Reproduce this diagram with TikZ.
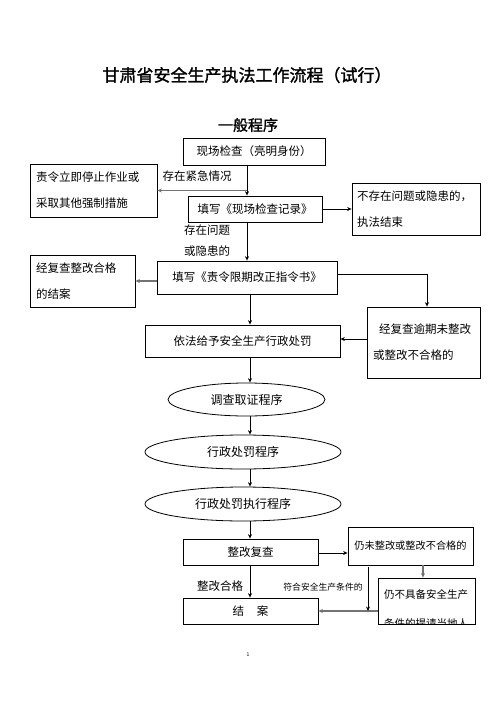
\documentclass[tikz,border=0pt]{standalone}
\usepackage{fontspec}
\setmainfont{Noto Sans CJK SC}
\newfontfamily\titlefont[FakeBold=1.5]{Noto Sans CJK SC}
\usetikzlibrary{shapes.geometric}
\usetikzlibrary{arrows.meta}
\usetikzlibrary{calc}

\begin{document}
\begin{tikzpicture}[x=1pt, y=-1pt]
        % ================= 样式定义 =================
        \tikzset{
            % 方框
            box/.style={draw=black, line width=0.8pt, inner sep=0pt, font=\fontsize{11.5}{26}\selectfont},
            % 多行方框 (左对齐)
            tbox/.style={box, text width=#1, align=left},
            % 椭圆
            oval/.style={ellipse, draw=black, line width=0.8pt, inner sep=0pt, font=\fontsize{12}{14}\selectfont},
            % 连线上的文字
            tag/.style={inner sep=0pt, font=\fontsize{11.5}{21}\selectfont},
            % 连线
            flow/.style={line width=0.7pt, -{Stealth[length=4.5pt, width=4pt]}},
            side/.style={flow, draw=black!55, line width=1.6pt}
        }

        \useasboundingbox (0,0) rectangle (496,702);

        % ================= 标题 =================
        \node[font=\titlefont\fontsize{17}{20}\selectfont] (title) at (247,75) {甘肃省安全生产执法工作流程（试行）};
        \node[font=\titlefont\fontsize{15}{18}\selectfont] (sub) at (248,125) {一般程序};

        % ================= 上半部分 =================
        \node[box, minimum width=142, minimum height=27] (insp) at (254,151.5) {现场检查（亮明身份）};
        \node[tbox=115pt, minimum width=127, minimum height=53] (stop) at (93.5,190.5) {责令立即停止作业或\\采取其他强制措施};
        \node[box, minimum width=134, minimum height=26] (rec) at (255,209) {填写《现场检查记录》};
        \node[tbox=118pt, minimum width=128, minimum height=52] (noprob) at (416,209) {不存在问题或隐患的，\\执法结束};
        \node[box, minimum width=180, minimum height=33] (order) at (247,277.5) {填写《责令限期改正指令书》};
        \node[tbox=93pt, minimum width=105, minimum height=52] (passed) at (82.5,281) {经复查整改合格\\的结案};
        \node[tbox=101pt, minimum width=113, minimum height=71] (overdue) at (423.5,342.5) {\hspace{6pt}经复查逾期未整改\\或整改不合格的};
        \node[box, minimum width=195, minimum height=32] (punish) at (242.5,341) {依法给予安全生产行政处罚};

        % ================= 程序 (椭圆) =================
        \node[oval, minimum width=157, minimum height=33] (inv) at (246.5,399.5) {调查取证程序};
        \node[oval, minimum width=196, minimum height=34] (pen) at (243,452) {行政处罚程序};
        \node[oval, minimum width=196, minimum height=34] (exe) at (243,504) {行政处罚执行程序};

        % ================= 下半部分 =================
        \node[box, minimum width=135, minimum height=26] (recheck) at (250.5,552) {整改复查};
        \node[box, minimum width=125, minimum height=38, font=\fontsize{10.2}{12}\selectfont] (still) at (410.5,546) {仍未整改或整改不合格的};
        \node[box, minimum width=135, minimum height=26] (close) at (250.5,611) {结\hspace{13pt}案};
        \node[box, minimum width=97, minimum height=46] (report) at (426.5,601) {};
        % 文字被方框截断
        \begin{scope}
            \clip (report.south west) rectangle (report.north east);
            \node[inner sep=0pt, anchor=base west, font=\fontsize{10.5}{12}\selectfont] (reportA) at (384,598) {仍不具备安全生产};
            \node[inner sep=0pt, anchor=base west, font=\fontsize{10.5}{12}\selectfont] (reportB) at (384,627) {条件的提请当地人};
        \end{scope}

        % 标签
        \node[tag] (urgent) at (197,176) {存在紧急情况};
        \node[tag, align=left] (prob) at (207,240.5) {存在问题\\或隐患的};
        \node[tag] (ok) at (220,586) {整改合格};
        \node[tag, font=\fontsize{8.8}{10}\selectfont] (meet) at (323,587) {符合安全生产条件的};
        \node[font=\fontsize{5}{6}\selectfont] (page) at (248,655) {1};

        % ================= 连线 =================
        \coordinate (axis) at (250,0);
        \coordinate (join) at (368,611);

        \draw[side] (stop.east -| order) -- (stop.east);
        \draw[flow] (insp.south -| order) -- (rec.north -| order);
        \draw[flow] (rec.east) -- (noprob.west);
        \draw[flow] (rec.south -| order) -- (order.north);
        \draw[side] (passed.east -| order.west) -- (passed.east);
        \draw[flow] ($(order.east)+(0,-3.5)$) -| ($(overdue.north)+(3.5,0)$);
        \draw[flow] ($(overdue.west)+(0,-3.5)$) -- ($(overdue.west -| punish.east)+(0,-3.5)$);
        \draw[flow] (order.south -| axis) -- (punish.north -| axis);
        \draw[flow] (punish.south -| axis) -- (inv.north -| axis);
        \draw[flow] (inv.south -| axis) -- (pen.north -| axis);
        \draw[flow] (pen.south -| axis) -- (exe.north -| axis);
        \draw[flow] (exe.south -| axis) -- (recheck.north -| axis);
        \draw[flow] ($(recheck.east)+(0,1)$) -- ($(recheck.east -| still.west)+(0,1)$);
        \draw[flow] (recheck.south -| axis) -- (close.north -| axis);
        \draw[side] ($(still.south -| report)+(-3.5,0)$) -- ($(report.north)+(-3.5,0)$);
        \draw[side] (close.east -| report.west) -- (close.east);
        \draw[flow] ($(still.south -| join)+(0,2)$) -- (join);

\end{tikzpicture}
\end{document}
